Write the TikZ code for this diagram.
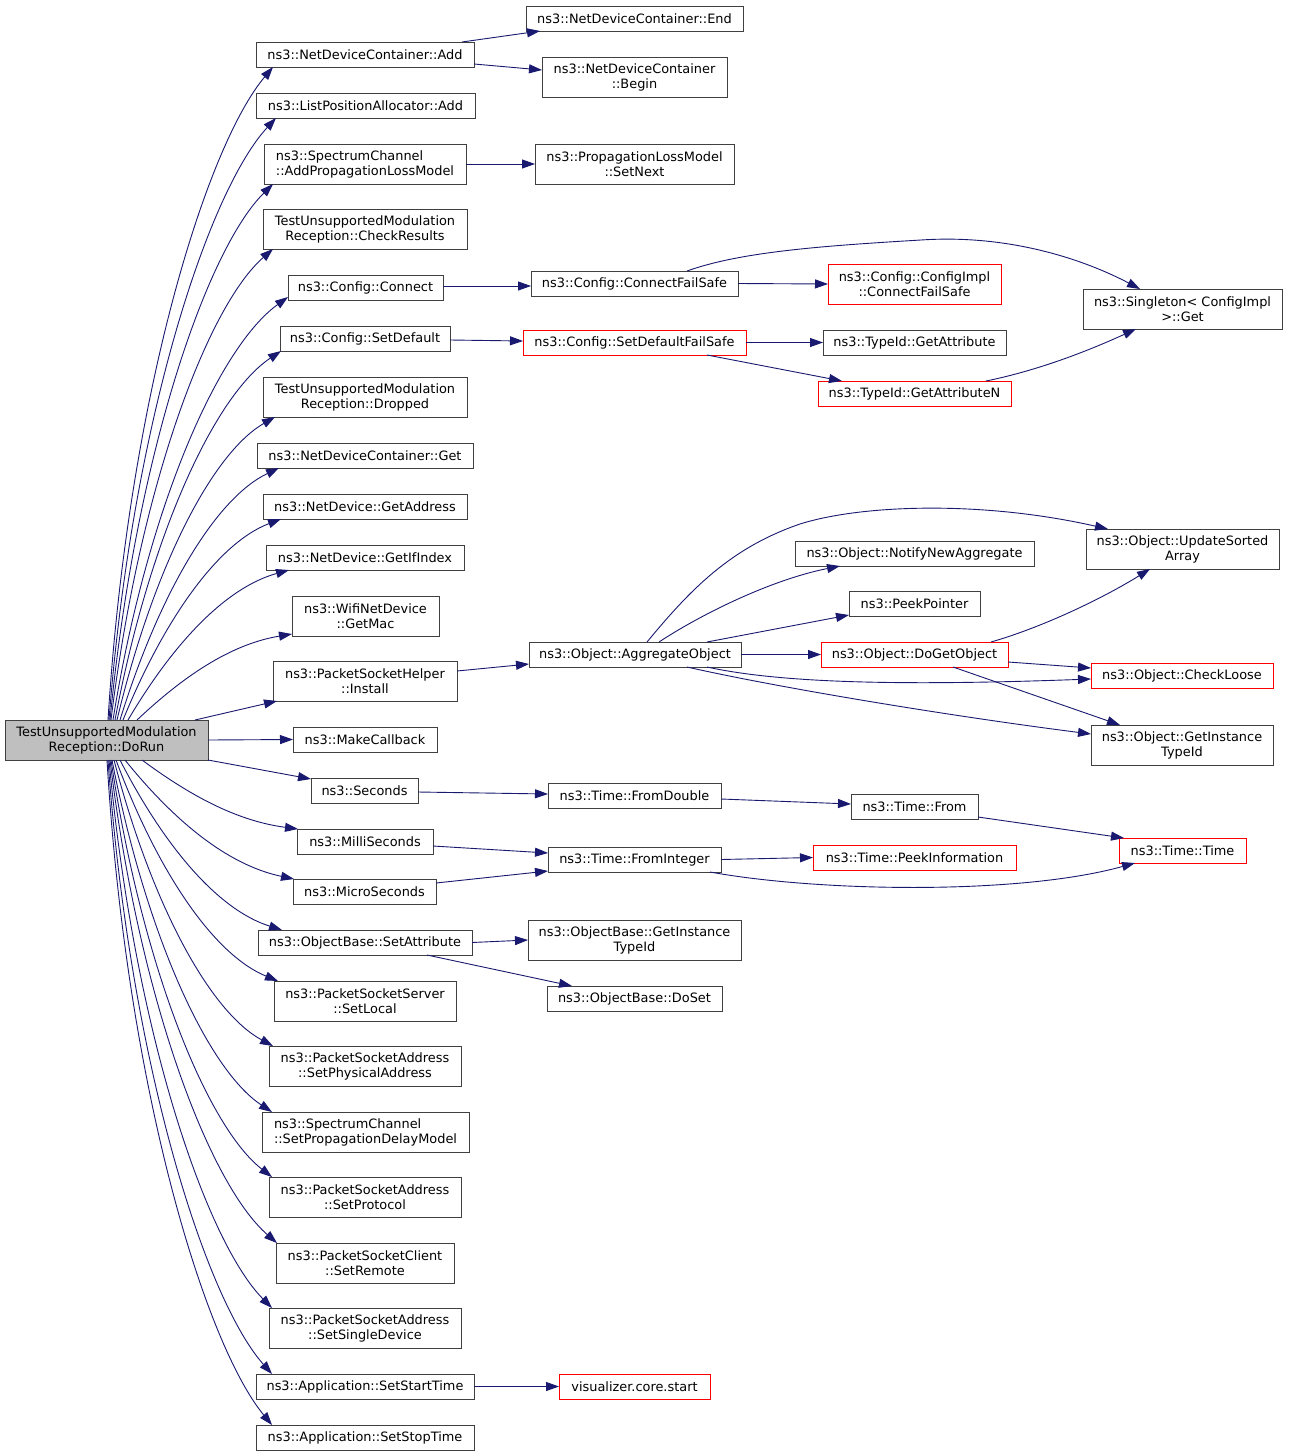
\documentclass[tikz,border=0pt]{standalone}
\usepackage{fontspec}
\setmainfont{DejaVu Sans}
\usetikzlibrary{arrows.meta,calc}
\definecolor{edgec}{RGB}{25,25,112}
\definecolor{boxc}{RGB}{64,64,64}
\definecolor{redc}{RGB}{255,0,0}
\definecolor{hlc}{RGB}{191,191,191}
\tikzset{
  box/.style={draw=boxc, line width=1pt, rectangle, inner sep=0pt, outer sep=0pt,
    font=\fontsize{12.9}{15}\selectfont, align=center},
  edge/.style={draw=edgec, line width=0.9pt, -{Triangle[length=13pt,width=9pt]}},
}
\newcommand\bx[7][]{\node[box,#1,minimum width={(#4-#2)*1pt},minimum height={(#5-#3)*1pt}] (#6) at ({(#2+#4)/2},{-(#3+#5)/2}) {#7};}
\newcommand\fanup[4]{\draw[edge] let \p1=($(DoRun.north west)+(#2,0)$), \p2=($(#1.south west)+(#3,#4)$), \n1={\x2-\x1}, \n2={\y2-\y1} in (\p1) .. controls ($(\p1)+({(0.32-0.2*\n2/665)*\n1},{0.5*\n2})$) and ($(\p2)+({-0.4*\n1},{-0.12*\n2})$) .. (\p2);}
\newcommand\fandown[4]{\draw[edge] let \p1=($(DoRun.south west)+(#2,0)$), \p2=($(#1.north west)+(#3,#4)$), \n1={\x2-\x1}, \n2={\y1-\y2} in (\p1) .. controls ($(\p1)+({(0.32-0.2*\n2/665)*\n1},{-0.5*\n2})$) and ($(\p2)+({-0.4*\n1},{0.12*\n2})$) .. (\p2);}
\begin{document}
\begin{tikzpicture}[x=1pt,y=1pt]
\useasboundingbox (0,0) rectangle (1288,-1456);
\fill[white] (0,0) rectangle (1288,-1456);
% main node
\bx[fill=hlc]{5}{720}{208}{760}{DoRun}{TestUnsupportedModulation\\Reception::DoRun}
% column 2
\bx{256}{42}{474}{67}{add}{ns3::NetDeviceContainer::Add}
\bx{256}{93}{475}{118}{lpa}{ns3::ListPositionAllocator::Add}
\bx[align=left]{264}{144}{466}{184}{scadd}{ns3::SpectrumChannel\\::AddPropagationLossModel}
\bx{263}{209}{467}{249}{check}{TestUnsupportedModulation\\Reception::CheckResults}
\bx{288}{275}{443}{300}{conn}{ns3::Config::Connect}
\bx{280}{326}{450}{351}{setdef}{ns3::Config::SetDefault}
\bx{263}{377}{467}{417}{drop}{TestUnsupportedModulation\\Reception::Dropped}
\bx{257}{443}{473}{468}{ndcget}{ns3::NetDeviceContainer::Get}
\bx{263}{494}{467}{519}{getaddr}{ns3::NetDevice::GetAddress}
\bx{266}{545}{464}{570}{getif}{ns3::NetDevice::GetIfIndex}
\bx{292}{596}{439}{636}{getmac}{ns3::WifiNetDevice\\::GetMac}
\bx{273}{661}{457}{701}{install}{ns3::PacketSocketHelper\\::Install}
\bx{293}{727}{437}{752}{makecb}{ns3::MakeCallback}
\bx{311}{778}{418}{803}{secs}{ns3::Seconds}
\bx{297}{829}{433}{854}{milli}{ns3::MilliSeconds}
\bx{293}{879}{436}{904}{micro}{ns3::MicroSeconds}
\bx{258}{930}{472}{955}{setattr}{ns3::ObjectBase::SetAttribute}
\bx{274}{981}{456}{1021}{setlocal}{ns3::PacketSocketServer\\::SetLocal}
\bx{269}{1046}{461}{1086}{setphys}{ns3::PacketSocketAddress\\::SetPhysicalAddress}
\bx[align=left]{262}{1112}{469}{1152}{setpdm}{ns3::SpectrumChannel\\::SetPropagationDelayModel}
\bx{269}{1177}{461}{1217}{setproto}{ns3::PacketSocketAddress\\::SetProtocol}
\bx{276}{1243}{454}{1283}{setremote}{ns3::PacketSocketClient\\::SetRemote}
\bx{269}{1308}{461}{1348}{setsingle}{ns3::PacketSocketAddress\\::SetSingleDevice}
\bx{256}{1374}{474}{1399}{start}{ns3::Application::SetStartTime}
\bx{256}{1425}{474}{1450}{stop}{ns3::Application::SetStopTime}
% column 3 and beyond
\bx{526}{6}{743}{31}{ndcend}{ns3::NetDeviceContainer::End}
\bx{542}{57}{727}{97}{ndcbegin}{ns3::NetDeviceContainer\\::Begin}
\bx{535}{144}{734}{184}{plmnext}{ns3::PropagationLossModel\\::SetNext}
\bx{531}{271}{738}{296}{connfs}{ns3::Config::ConnectFailSafe}
\bx[draw=redc]{828}{264}{1001}{304}{implcfs}{ns3::Config::ConfigImpl\\::ConnectFailSafe}
\bx{1083}{289}{1282}{329}{singleton}{ns3::Singleton< ConfigImpl\\ >::Get}
\bx[draw=redc]{523}{330}{746}{355}{setdeffs}{ns3::Config::SetDefaultFailSafe}
\bx{823}{330}{1006}{355}{getattr}{ns3::TypeId::GetAttribute}
\bx[draw=redc]{818}{381}{1011}{406}{getattrn}{ns3::TypeId::GetAttributeN}
\bx{1086}{529}{1279}{569}{updsort}{ns3::Object::UpdateSorted\\Array}
\bx{795}{541}{1034}{566}{notify}{ns3::Object::NotifyNewAggregate}
\bx{849}{591}{980}{616}{peek}{ns3::PeekPointer}
\bx{529}{642}{741}{667}{aggr}{ns3::Object::AggregateObject}
\bx[draw=redc]{821}{642}{1008}{667}{dogo}{ns3::Object::DoGetObject}
\bx[draw=redc]{1091}{663}{1273}{688}{checkloose}{ns3::Object::CheckLoose}
\bx{1091}{725}{1273}{765}{ogit}{ns3::Object::GetInstance\\TypeId}
\bx{548}{783}{721}{808}{fromdbl}{ns3::Time::FromDouble}
\bx{851}{794}{978}{819}{tfrom}{ns3::Time::From}
\bx{548}{847}{721}{872}{fromint}{ns3::Time::FromInteger}
\bx[draw=redc]{813}{845}{1016}{870}{peekinfo}{ns3::Time::PeekInformation}
\bx[draw=redc]{1119}{838}{1246}{863}{ttime}{ns3::Time::Time}
\bx{528}{920}{741}{960}{obgit}{ns3::ObjectBase::GetInstance\\TypeId}
\bx{547}{986}{722}{1011}{obdoset}{ns3::ObjectBase::DoSet}
\bx[draw=redc]{559}{1374}{710}{1399}{viz}{visualizer.core.start}
% fan from DoRun upward
\fanup{add}{103}{17}{0}
\fanup{lpa}{104}{20}{0}
\fanup{scadd}{105}{9}{0}
\fanup{check}{106}{10}{0}
\fanup{conn}{108}{0}{3}
\fanup{setdef}{110}{1}{0}
\fanup{drop}{112}{12}{0}
\fanup{ndcget}{115}{22}{0}
\fanup{getaddr}{118}{18}{0}
\fanup{getif}{123}{23}{0}
\fanup{getmac}{132}{0}{2}
% fan from DoRun downward
\fandown{milli}{137}{1}{0}
\fandown{micro}{120}{1}{0}
\fandown{setattr}{115}{24}{0}
\fandown{setlocal}{111}{4}{0}
\fandown{setphys}{109}{4}{0}
\fandown{setpdm}{107}{10}{0}
\fandown{setproto}{106}{3}{0}
\fandown{setremote}{105}{1}{0}
\fandown{setsingle}{104}{3}{0}
\fandown{start}{103}{16}{0}
\fandown{stop}{102}{16}{0}
% direct edges from DoRun
\draw[edge] ($(DoRun.north west)+(190,0)$) -- ($(install.south west)+(4,0)$);
\draw[edge] (DoRun.east) -- (makecb.west);
\draw[edge] (DoRun.south east) -- ($(secs.north west)+(0,-1)$);
% other edges
\draw[edge] ($(add.north west)+(206,0)$) -- ($(ndcend.south west)+(14,0)$);
\draw[edge] ($(add.east)+(0,-9.5)$) -- ($(ndcbegin.west)+(0,7)$);
\draw[edge] (scadd.east) -- (plmnext.west);
\draw[edge] ($(conn.east)+(0,1.5)$) -- ($(connfs.west)+(0,-2.5)$);
\draw[edge] ($(setdef.east)+(0,-1.5)$) -- ($(setdeffs.west)+(0,1.5)$);
\draw[edge] (connfs.east) -- (implcfs.west);
\draw[edge] ($(connfs.north west)+(156,0)$) .. controls (740,-252) and (820,-246) .. (921,-240) .. controls (1010,-234) and (1085,-260) .. ($(singleton.north west)+(57,0)$);
\draw[edge] (setdeffs.east) -- (getattr.west);
\draw[edge] ($(setdeffs.south west)+(184,0)$) -- ($(getattrn.north west)+(24,0)$);
\draw[edge] ($(getattrn.north west)+(168,0)$) .. controls (1040,-370) and (1090,-350) .. ($(singleton.south west)+(53,0)$);
\draw[edge] ($(install.north east)+(0,-10)$) -- ($(aggr.west)+(0,-9.5)$);
\draw[edge] ($(aggr.north west)+(118,0)$) .. controls (690,-590) and (730,-548) .. (800,-524) .. controls (860,-505) and (980,-500) .. ($(updsort.north west)+(22,0)$);
\draw[edge] ($(aggr.north west)+(130,0)$) .. controls (700,-615) and (770,-580) .. ($(notify.south west)+(45,0)$);
\draw[edge] ($(aggr.north west)+(178,0)$) -- ($(peek.south west)+(0,1)$);
\draw[edge] (aggr.east) -- (dogo.west);
\draw[edge] ($(aggr.south west)+(178,0)$) .. controls (780,-683) and (900,-686) .. ($(checkloose.west)+(0,-3.5)$);
\draw[edge] ($(aggr.south west)+(158,0)$) .. controls (780,-688) and (950,-716) .. ($(ogit.north west)+(0,-9)$);
\draw[edge] ($(dogo.north west)+(170,0)$) .. controls (1040,-628) and (1100,-600) .. ($(updsort.south west)+(64,0)$);
\draw[edge] ($(dogo.east)+(0,-7.5)$) -- ($(checkloose.north west)+(0,-5)$);
\draw[edge] ($(dogo.south west)+(132,0)$) -- ($(ogit.north west)+(29,0)$);
\draw[edge] ($(secs.east)+(0,-1.5)$) -- ($(fromdbl.west)+(0,1.5)$);
\draw[edge] ($(fromdbl.east)+(0,-3.5)$) -- ($(tfrom.west)+(0,2.5)$);
\draw[edge] ($(tfrom.south east)+(0,2)$) -- ($(ttime.north west)+(5,0)$);
\draw[edge] ($(milli.east)+(0,-4.5)$) -- ($(fromint.west)+(0,6.5)$);
\draw[edge] ($(micro.north east)+(0,-4)$) -- ($(fromint.south west)+(0,1)$);
\draw[edge] (fromint.east) -- (peekinfo.west);
\draw[edge] ($(fromint.south west)+(162,0)$) .. controls (820,-892) and (1020,-895) .. ($(ttime.south west)+(16,0)$);
\draw[edge] (setattr.east) -- (obgit.west);
\draw[edge] ($(setattr.south west)+(169,0)$) -- ($(obdoset.north west)+(25,0)$);
\draw[edge] (start.east) -- (viz.west);
\end{tikzpicture}
\end{document}
